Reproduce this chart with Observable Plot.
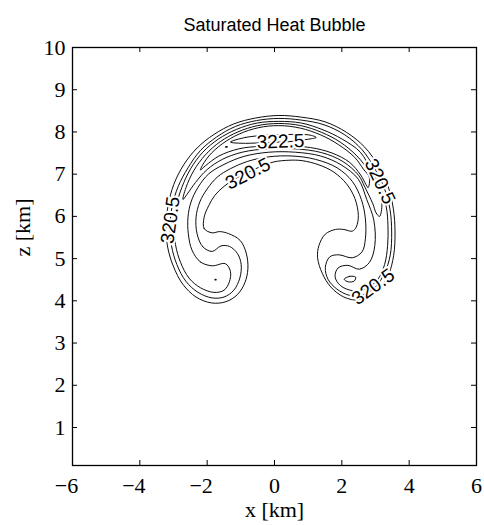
<!DOCTYPE html>
<html><head><meta charset="utf-8">
<script src="https://cdn.jsdelivr.net/npm/d3@7"></script>
<script src="https://cdn.jsdelivr.net/npm/@observablehq/plot@0.6"></script>
<style>body{margin:0;background:#fff}</style>
</head><body><div id="chart"></div>
<script>
const title = "Saturated Heat Bubble";
const xLabel = "x [km]";
const zLabel = "z [km]";
const xTicks = [-6, -4, -2, 0, 2, 4, 6];
const zTicks = [1, 2, 3, 4, 5, 6, 7, 8, 9, 10];

// contour lines, [x km, z km]
const contour320_5 = [[-1.85,5.61],[-2.09,5.71],[-2.09,5.98],[-1.95,6.26],[-1.77,6.50],[-1.50,6.71],[-1.18,6.89],[-0.81,7.03],[-0.42,7.18],[-0.02,7.29],[0.43,7.33],[0.82,7.32],[1.32,7.22],[1.76,7.05],[2.14,6.77],[2.39,6.42],[2.49,6.02],[2.43,5.75],[2.31,5.65],[2.06,5.69],[1.81,5.69],[1.51,5.58],[1.32,5.31],[1.28,5.02],[1.42,4.65],[1.67,4.33],[2.06,4.09],[2.50,4.02],[3.00,4.20],[3.37,4.59],[3.54,5.08],[3.58,5.63],[3.53,6.18],[3.37,6.72],[3.08,7.20],[2.68,7.64],[2.14,7.99],[1.50,8.24],[0.80,8.35],[0.13,8.39],[-0.56,8.33],[-1.21,8.19],[-1.80,7.94],[-2.30,7.62],[-2.69,7.23],[-2.99,6.76],[-3.16,6.26],[-3.22,5.79],[-3.18,5.30],[-3.01,4.83],[-2.72,4.39],[-2.33,4.09],[-1.87,3.95],[-1.44,3.98],[-1.10,4.15],[-0.88,4.43],[-0.79,4.76],[-0.84,5.13],[-1.02,5.43],[-1.36,5.59],[-1.63,5.64]];
const contour321 = [[-1.85,5.17],[-2.13,5.28],[-2.30,5.59],[-2.33,5.98],[-2.22,6.34],[-2.00,6.65],[-1.70,6.93],[-1.31,7.13],[-0.81,7.30],[-0.17,7.41],[0.52,7.43],[1.22,7.35],[1.86,7.15],[2.31,6.83],[2.58,6.40],[2.70,5.94],[2.70,5.47],[2.60,5.16],[2.31,5.02],[1.91,5.09],[1.64,5.04],[1.51,4.79],[1.59,4.51],[1.85,4.28],[2.23,4.13],[2.62,4.14],[3.00,4.33],[3.27,4.66],[3.44,5.09],[3.48,5.63],[3.43,6.17],[3.26,6.67],[2.98,7.13],[2.60,7.58],[2.09,7.93],[1.47,8.17],[0.80,8.28],[0.13,8.32],[-0.53,8.27],[-1.16,8.13],[-1.72,7.88],[-2.20,7.56],[-2.57,7.15],[-2.86,6.71],[-3.04,6.24],[-3.10,5.79],[-3.06,5.31],[-2.90,4.86],[-2.63,4.46],[-2.27,4.20],[-1.86,4.07],[-1.50,4.09],[-1.21,4.25],[-1.03,4.54],[-0.99,4.86],[-1.10,5.12],[-1.34,5.29],[-1.59,5.30]];
const contour321_5 = [[-1.85,4.83],[-2.20,4.92],[-2.45,5.20],[-2.56,5.59],[-2.57,5.98],[-2.48,6.34],[-2.27,6.69],[-1.95,7.01],[-1.50,7.23],[-0.91,7.42],[-0.17,7.52],[0.62,7.52],[1.37,7.43],[1.98,7.22],[2.49,6.88],[2.74,6.40],[2.95,5.91],[2.98,5.31],[2.82,4.91],[2.52,4.75],[2.18,4.84],[1.89,4.78],[1.80,4.57],[1.96,4.36],[2.33,4.24],[2.72,4.29],[3.07,4.51],[3.27,4.86],[3.36,5.31],[3.37,5.79],[3.32,6.22],[3.15,6.67],[2.87,7.09],[2.55,7.52],[2.01,7.83],[1.44,8.05],[0.80,8.21],[0.13,8.25],[-0.52,8.21],[-1.13,8.06],[-1.67,7.83],[-2.13,7.52],[-2.49,7.13],[-2.75,6.69],[-2.92,6.24],[-2.98,5.79],[-2.94,5.33],[-2.79,4.91],[-2.54,4.54],[-2.20,4.31],[-1.80,4.20],[-1.50,4.25],[-1.34,4.45],[-1.31,4.70],[-1.46,4.88]];
const contour322 = [[3.12,6.00],[3.19,6.30],[3.05,6.70],[2.82,7.05],[2.45,7.43],[1.95,7.76],[1.40,7.99],[0.78,8.15],[0.13,8.20],[-0.50,8.15],[-1.09,8.00],[-1.61,7.77],[-2.05,7.46],[-2.40,7.08],[-2.63,6.68],[-2.72,6.40],[-2.60,6.52],[-2.35,6.80],[-2.00,7.11],[-1.55,7.35],[-0.96,7.52],[-0.21,7.60],[0.62,7.60],[1.40,7.51],[2.03,7.30],[2.50,6.97],[2.68,6.70],[2.92,6.30],[3.02,6.08]];
const contour322_25 = [[2.78,6.68],[2.82,6.92],[2.64,7.12],[2.38,7.40],[1.90,7.70],[1.37,7.93],[0.77,8.09],[0.13,8.15],[-0.48,8.10],[-1.05,7.95],[-1.55,7.72],[-1.95,7.43],[-2.18,7.15],[-2.20,7.10],[-2.05,7.20],[-1.65,7.43],[-1.06,7.60],[-0.42,7.66],[0.33,7.67],[1.07,7.63],[1.71,7.50],[2.23,7.28],[2.56,6.98],[2.72,6.75]];
const contour322_5 = [[-1.31,7.76],[-0.86,7.87],[-0.27,7.92],[0.43,7.94],[1.02,7.93],[1.24,7.87],[1.02,7.83],[0.43,7.77],[-0.27,7.75],[-0.86,7.73]];
const contour323 = [[-1.47,7.645],[-1.43,7.655],[-1.39,7.645],[-1.43,7.635]];
const lobeLeft322 = [[-1.78,4.50],[-1.75,4.51],[-1.72,4.50],[-1.75,4.49]];
const lobeRight322 = [[2.07,4.51],[2.23,4.58],[2.41,4.56],[2.37,4.47],[2.19,4.45]];

// inline contour labels
const labelText = ["322.5", "320.5", "320.5", "320.5", "320.5"];
const labelX = [0.18, -0.79, -3.09, 3.13, 2.93];
const labelZ = [7.77, 7.01, 5.91, 6.83, 4.33];
const labelAngle = [-2, -27, -82, 65, -36];

const contours = [contour320_5, contour321, contour321_5, contour322, contour322_25, contour322_5, contour323, lobeLeft322, lobeRight322];
const labels = labelText.map((t, i) => ({t, x: labelX[i], z: labelZ[i], a: labelAngle[i]}));

const W = 484, H = 525, mL = 72, mR = 8, mT = 47, mB = 60;
const fW = W - mL - mR, fH = H - mT - mB;
const serif = "'Liberation Serif', 'Times New Roman', serif";
const sans = "'Liberation Sans', Arial, Helvetica, sans-serif";

const marks = [];
for (const c of contours) {
  marks.push(Plot.line(c, {x: d => d[0], y: d => d[1], curve: "catmull-rom-closed", stroke: "black", strokeWidth: 0.95}));
}
marks.push(Plot.text(labels, {x: "x", y: "z", text: "t", rotate: "a", fontSize: 19, fontFamily: sans, fill: "black", stroke: "white", strokeWidth: 4}));
// inward ticks on all four sides
marks.push(Plot.tickX(xTicks, {x: d => d, insetTop: fH - 5, stroke: "black"}));
marks.push(Plot.tickX(xTicks, {x: d => d, insetBottom: fH - 5, stroke: "black"}));
marks.push(Plot.tickY(zTicks, {y: d => d, insetRight: fW - 5, stroke: "black"}));
marks.push(Plot.tickY(zTicks, {y: d => d, insetLeft: fW - 5, stroke: "black"}));
// tick labels: digits centred on the tick, minus sign hanging to the left
marks.push(Plot.axisX(xTicks.filter(d => d < 0), {anchor: "bottom", tickSize: 0, tickPadding: 12, label: null, fontSize: 22, dx: -6}));
marks.push(Plot.axisX(xTicks.filter(d => d >= 0), {anchor: "bottom", tickSize: 0, tickPadding: 12, label: null, fontSize: 22}));
marks.push(Plot.axisY(zTicks, {anchor: "left", tickSize: 0, tickPadding: 7, label: null, fontSize: 22}));
marks.push(Plot.frame({stroke: "black", strokeWidth: 1.3}));
marks.push(Plot.text([title], {text: d => d, frameAnchor: "top", dy: -29, fontSize: 18, fontFamily: sans, fill: "black"}));
marks.push(Plot.text([xLabel], {text: d => d, frameAnchor: "bottom", dy: 51, fontSize: 22, fontFamily: serif, fill: "black"}));
marks.push(Plot.text([zLabel], {text: d => d, frameAnchor: "left", dx: -50, rotate: -90, fontSize: 22, fontFamily: serif, fill: "black"}));

const chart = Plot.plot({
  width: W, height: H,
  marginLeft: mL, marginRight: mR, marginTop: mT, marginBottom: mB,
  x: {domain: [-6, 6]},
  y: {domain: [0.1, 10]},
  style: {fontFamily: serif, fontSize: "22px", color: "black", background: "white"},
  marks
});
document.getElementById("chart").appendChild(chart);
</script>
</body></html>
